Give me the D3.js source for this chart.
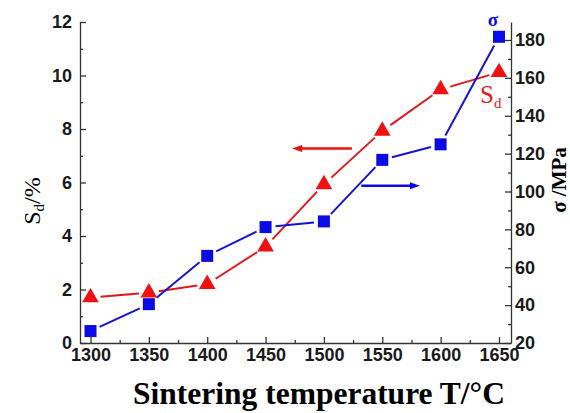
<!DOCTYPE html>
<html>
<head>
<meta charset="utf-8">
<script src="https://cdn.jsdelivr.net/npm/d3@7"></script>
<style>
  body { margin: 0; background: #fff; }
  .tick text { font-family: "Liberation Sans", Arial, sans-serif; font-weight: bold; font-size: 18px; fill: #1a1a1a; }
  .domain, .tick line { stroke: #333; stroke-width: 1.3px; }
</style>
</head>
<body>
<svg id="chart" width="570" height="413"></svg>
<script>
// sintering temperature (deg C)
var temps = [1300, 1350, 1400, 1450, 1500, 1550, 1600, 1650];
// shrinkage Sd (%)
var shrink = [1.7, 1.88, 2.2, 3.6, 5.93, 7.93, 9.48, 10.12];
// flexural strength sigma (MPa)
var strength = [26.3, 40.5, 66, 81.2, 84.2, 116.7, 124.9, 181.7];

var xTicks = [1300, 1350, 1400, 1450, 1500, 1550, 1600, 1650];
var yLeftTicks = [0, 2, 4, 6, 8, 10, 12];
var yRightTicks = [20, 40, 60, 80, 100, 120, 140, 160, 180];

var svg = d3.select('#chart');

var plotL = 80, plotR = 511, plotT = 22, plotB = 343;

var x = d3.scaleLinear().domain([1291, 1660.3]).range([plotL, plotR]);
var yL = d3.scaleLinear().domain([0, 12]).range([plotB, plotT]);
var yR = d3.scaleLinear().domain([20, 189.5]).range([plotB, plotT]);

var red = '#f01010', blue = '#0a0ae6';
var serif = '"Liberation Serif", "Times New Roman", serif';

// minor ticks first
svg.append('g')
    .attr('transform', 'translate(0,' + plotB + ')')
    .call(d3.axisBottom(x).tickValues(d3.range(1325, 1660, 50)).tickSize(-3).tickFormat(''))
    .select('.domain').remove();
svg.append('g')
    .attr('transform', 'translate(' + plotL + ',0)')
    .call(d3.axisLeft(yL).tickValues(d3.range(1, 12, 2)).tickSize(-3).tickFormat(''))
    .select('.domain').remove();
svg.append('g')
    .attr('transform', 'translate(' + plotR + ',0)')
    .call(d3.axisRight(yR).tickValues(d3.range(30, 189, 20)).tickSize(-3).tickFormat(''))
    .select('.domain').remove();

// major axes
var gx = svg.append('g')
    .attr('transform', 'translate(0,' + plotB + ')')
    .call(d3.axisBottom(x).tickValues(xTicks).tickFormat(d3.format('d'))
        .tickSize(-6).tickPadding(3).tickSizeOuter(0));
gx.selectAll('.tick text').attr('dy', '0.85em');

svg.append('g')
    .attr('transform', 'translate(' + plotL + ',0)')
    .call(d3.axisLeft(yL).tickValues(yLeftTicks).tickFormat(d3.format('d'))
        .tickSize(-6).tickPadding(8).tickSizeOuter(0));

svg.append('g')
    .attr('transform', 'translate(' + plotR + ',0)')
    .call(d3.axisRight(yR).tickValues(yRightTicks).tickFormat(d3.format('d'))
        .tickSize(-6).tickPadding(4).tickSizeOuter(0));

// lines drawn as segments with small gaps at the markers
function drawSegments(vals, ys, color, gap) {
    var pts = temps.map(function(t, i) { return [x(t), ys(vals[i])]; });
    for (var i = 0; i < pts.length - 1; i++) {
        var a = pts[i], b = pts[i + 1];
        var dx = b[0] - a[0], dy = b[1] - a[1];
        var len = Math.sqrt(dx * dx + dy * dy);
        var ux = dx / len, uy = dy / len;
        svg.append('line')
            .attr('x1', a[0] + ux * gap).attr('y1', a[1] + uy * gap)
            .attr('x2', b[0] - ux * gap).attr('y2', b[1] - uy * gap)
            .attr('stroke', color)
            .attr('stroke-width', 2);
    }
}
drawSegments(shrink, yL, '#e01818', 10);
drawSegments(strength, yR, '#1414d2', 10);

// markers
svg.selectAll('.tri').data(shrink).enter().append('path')
    .attr('class', 'tri')
    .attr('d', d3.symbol().type(d3.symbolTriangle).size(120))
    .attr('transform', function(d, i) { return 'translate(' + x(temps[i]) + ',' + yL(d) + ')'; })
    .attr('fill', red);

svg.selectAll('.sq').data(strength).enter().append('rect')
    .attr('class', 'sq')
    .attr('x', function(d, i) { return x(temps[i]) - 6; })
    .attr('y', function(d) { return yR(d) - 6; })
    .attr('width', 12)
    .attr('height', 12)
    .attr('fill', blue);

// arrows
var defs = svg.append('defs');
function arrowHead(id, color) {
    defs.append('marker')
        .attr('id', id)
        .attr('viewBox', '0 0 10 10')
        .attr('refX', 5).attr('refY', 5)
        .attr('markerWidth', 5).attr('markerHeight', 4)
        .attr('orient', 'auto')
        .append('path')
        .attr('d', 'M0,1.5 L10,5 L0,8.5 z')
        .attr('fill', color);
}
arrowHead('redHead', red);
arrowHead('blueHead', blue);

svg.append('line')
    .attr('x1', x(1524)).attr('y1', yL(7.27))
    .attr('x2', x(1477)).attr('y2', yL(7.27))
    .attr('stroke', red).attr('stroke-width', 2.5)
    .attr('marker-end', 'url(#redHead)');

svg.append('line')
    .attr('x1', x(1532)).attr('y1', yR(103))
    .attr('x2', x(1578)).attr('y2', yR(103))
    .attr('stroke', blue).attr('stroke-width', 2.5)
    .attr('marker-end', 'url(#blueHead)');

// series labels
svg.append('text')
    .attr('x', 493).attr('y', 26)
    .attr('text-anchor', 'middle')
    .attr('font-family', serif)
    .attr('font-weight', 'bold')
    .attr('font-size', 19)
    .attr('fill', blue)
    .text('σ');

var sdLab = svg.append('text')
    .attr('x', 480).attr('y', 103)
    .attr('font-family', serif)
    .attr('font-size', 25)
    .attr('fill', '#e01818');
sdLab.append('tspan').text('S');
sdLab.append('tspan').attr('font-size', 15).attr('dy', 5).text('d');

// axis titles
svg.append('text')
    .attr('x', 319).attr('y', 404)
    .attr('text-anchor', 'middle')
    .attr('font-family', serif)
    .attr('font-weight', 'bold')
    .attr('font-size', 31.5)
    .attr('fill', '#000')
    .text('Sintering temperature T/°C');

var yLab = svg.append('text')
    .attr('transform', 'translate(40,201) rotate(-90)')
    .attr('text-anchor', 'middle')
    .attr('font-family', serif)
    .attr('font-size', 24)
    .attr('fill', '#000');
yLab.append('tspan').text('S');
yLab.append('tspan').attr('font-size', 15).attr('dy', 4).text('d');
yLab.append('tspan').attr('dy', -4).text('/%');

svg.append('text')
    .attr('transform', 'translate(566,180) rotate(-90)')
    .attr('text-anchor', 'middle')
    .attr('font-family', serif)
    .attr('font-weight', 'bold')
    .attr('font-size', 21)
    .attr('fill', '#000')
    .text('σ /MPa');
</script>
</body>
</html>
